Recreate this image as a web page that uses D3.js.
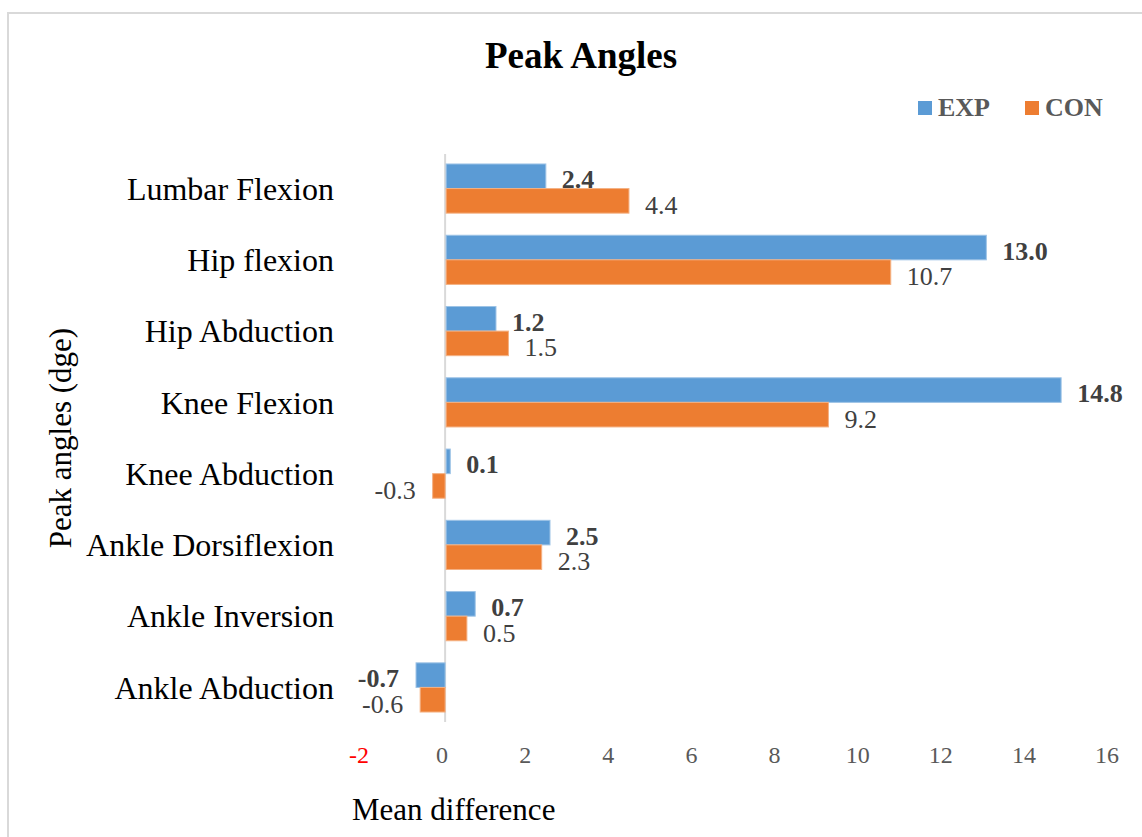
<!DOCTYPE html>
<html>
<head>
<meta charset="utf-8">
<script src="https://cdn.jsdelivr.net/npm/d3@7"></script>
<style>
  html, body { margin: 0; padding: 0; background: #fff; }
  svg { display: block; }
  svg text { font-family: "Liberation Serif", "Times New Roman", serif; }
</style>
</head>
<body>
<svg id="chart" width="1142" height="837"></svg>
<script>
// Peak angle mean differences per joint movement
const categories = ["Lumbar Flexion", "Hip flexion", "Hip Abduction", "Knee Flexion",
                    "Knee Abduction", "Ankle Dorsiflexion", "Ankle Inversion", "Ankle Abduction"];
const expValues = [2.4, 13.0, 1.2, 14.8, 0.1, 2.5, 0.7, -0.7];
const conValues = [4.4, 10.7, 1.5, 9.2, -0.3, 2.3, 0.5, -0.6];
const seriesNames = ["EXP", "CON"];
const xTicks = [-2, 0, 2, 4, 6, 8, 10, 12, 14, 16];

const colors = { EXP: "#5B9BD5", CON: "#ED7D31" };
const strokes = { EXP: "#9DC3E6", CON: "#F4B183" };

// plain hyphen for negative numbers
const fmt1 = v => d3.format(".1f")(v).replace("\u2212", "-");
const fmt0 = v => d3.format("d")(v).replace("\u2212", "-");

const svg = d3.select("#chart");

// outer chart frame
svg.append("rect")
  .attr("x", 8).attr("y", 13)
  .attr("width", 1200).attr("height", 900)
  .attr("fill", "#fff").attr("stroke", "#d9d9d9").attr("stroke-width", 2);

const plot = { left: 362, right: 1110, top: 154, bottom: 722 };

const x = d3.scaleLinear().domain([-2, 16]).range([plot.left, plot.right]);
const y = d3.scaleBand().domain(categories).range([plot.top, plot.bottom])
  .paddingInner(0.31).paddingOuter(0.14);
const ySub = d3.scaleBand().domain(seriesNames).range([0, y.bandwidth()]);

// title
svg.append("text")
  .attr("x", 581).attr("y", 68)
  .attr("text-anchor", "middle")
  .attr("font-size", 37).attr("font-weight", "bold").attr("fill", "#000")
  .text("Peak Angles");

// legend
const legend = svg.append("g");
const legendX = { EXP: 918, CON: 1025 };
seriesNames.forEach(name => {
  legend.append("rect")
    .attr("x", legendX[name]).attr("y", 101)
    .attr("width", 14).attr("height", 14)
    .attr("fill", colors[name]);
  legend.append("text")
    .attr("x", legendX[name] + 20).attr("y", 116)
    .attr("font-size", 26).attr("font-weight", "bold").attr("fill", "#595959")
    .text(name);
});

// category axis line at zero
svg.append("line")
  .attr("x1", x(0)).attr("x2", x(0))
  .attr("y1", plot.top).attr("y2", plot.bottom)
  .attr("stroke", "#d9d9d9").attr("stroke-width", 2);

// bars
const rows = categories.map((c, i) => ({ cat: c, EXP: expValues[i], CON: conValues[i] }));
const groups = svg.append("g").selectAll("g").data(rows).join("g")
  .attr("transform", d => `translate(0,${y(d.cat)})`);

seriesNames.forEach(name => {
  groups.append("rect")
    .attr("x", d => Math.min(x(0), x(d[name])) + (d[name] >= 0 ? 1 : 0))
    .attr("y", ySub(name))
    .attr("width", d => Math.abs(x(d[name]) - x(0)))
    .attr("height", ySub.bandwidth())
    .attr("fill", colors[name])
    .attr("stroke", strokes[name]).attr("stroke-width", 1);

  groups.append("text")
    .attr("x", d => d[name] >= 0 ? x(d[name]) + 17 : x(d[name]) - 17)
    .attr("y", ySub(name) + ySub.bandwidth() / 2 + (name === "EXP" ? 3 : 4))
    .attr("dy", "0.35em")
    .attr("text-anchor", d => d[name] >= 0 ? "start" : "end")
    .attr("font-size", 26)
    .attr("font-weight", name === "EXP" ? "bold" : "normal")
    .attr("fill", "#404040")
    .text(d => fmt1(d[name]));
});

// category labels
svg.append("g").selectAll("text").data(categories).join("text")
  .attr("x", 334)
  .attr("y", d => y(d) + y.bandwidth() / 2)
  .attr("dy", "0.35em")
  .attr("text-anchor", "end")
  .attr("font-size", 32).attr("fill", "#000")
  .text(d => d);

// value axis tick labels
const xAxis = d3.axisBottom(x).tickValues(xTicks).tickSize(0).tickPadding(0)
  .tickFormat(fmt0);
const axisG = svg.append("g")
  .attr("transform", `translate(-3.5,${plot.bottom})`)
  .call(xAxis);
axisG.attr("font-family", null).attr("font-size", null);
axisG.select(".domain").remove();
axisG.selectAll("text")
  .attr("y", 0).attr("dy", 0)
  .attr("transform", "translate(0,41)")
  .style("font-family", "'Liberation Serif', 'Times New Roman', serif")
  .style("font-size", "24px")
  .attr("fill", d => d < 0 ? "#FF0000" : "#595959");

// axis titles
svg.append("text")
  .attr("x", 352).attr("y", 820)
  .attr("font-size", 31).attr("fill", "#000")
  .text("Mean difference");

svg.append("text")
  .attr("transform", `translate(71,${(plot.top + plot.bottom) / 2}) rotate(-90)`)
  .attr("text-anchor", "middle")
  .attr("font-size", 31).attr("fill", "#000")
  .text("Peak angles (dge)");
</script>
</body>
</html>
